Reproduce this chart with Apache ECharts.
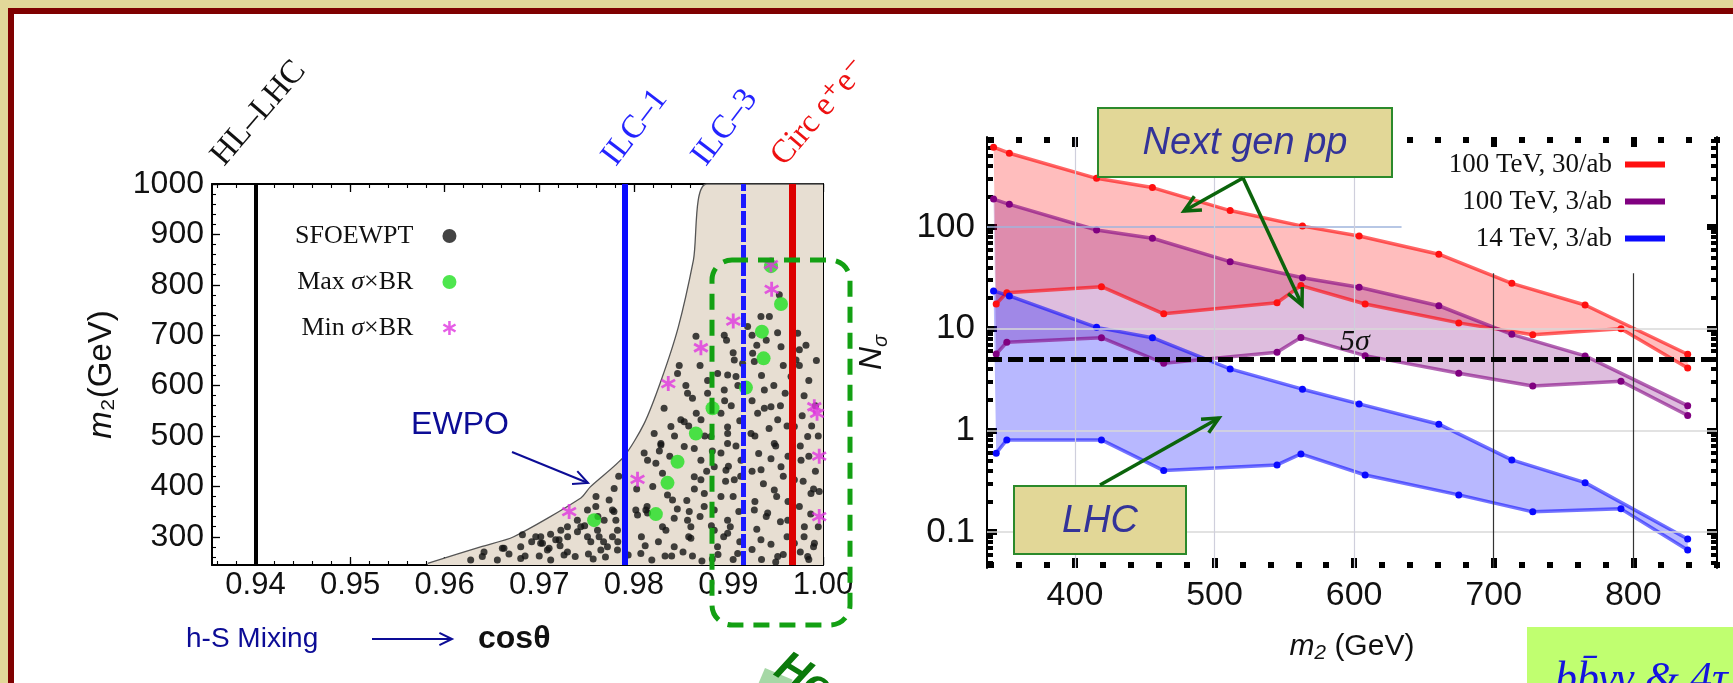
<!DOCTYPE html>
<html><head><meta charset="utf-8">
<script src="https://cdn.jsdelivr.net/npm/echarts@6/dist/echarts.min.js"></script>
<style>html,body{margin:0;padding:0;background:#e2d899}#c{width:1733px;height:683px}</style>
</head><body><div id="c"></div>
<script>
// ---------------- LEFT PANEL DATA ----------------
const cosTickLabels = [0.94, 0.95, 0.96, 0.97, 0.98, 0.99, 1.00];
const m2TickLabels = [300, 400, 500, 600, 700, 800, 900, 1000];
const probeNames = ['HL\u2013LHC', 'ILC\u20131', 'ILC\u20133', 'Circ e\u207Ae\u207B'];
const probeCos = [0.940, 0.9790, 0.9916, 0.9968];
const ewpoBoundary = [[0.9582,247],[0.9638,280],[0.9673,300],[0.9744,377],[0.9754,399],[0.9789,458],[0.9811,525],[0.9829,611],[0.9847,716],[0.9863,849],[0.9877,1000],[1.0,1000]];
const sfoewpt = [
[0.96416,270],[0.96610,277],[0.96804,280],[0.96822,304],[0.97016,300],[0.97034,287],[0.97104,277],[0.97210,294],[0.97228,313],[0.97298,270],
[0.97404,310],[0.97439,320],[0.97510,353],[0.97510,300],[0.97545,290],[0.97598,360],[0.97616,313],[0.97633,300],[0.97651,274],[0.97686,333],
[0.97721,280],[0.97739,373],[0.97774,300],[0.97792,396],[0.97810,333],[0.97827,313],[0.97827,274],[0.97774,353],
[0.98021,353],[0.98039,343],[0.98074,267],[0.98109,466],[0.98127,353],[0.98145,347],[0.98215,505],[0.98233,446],[0.98286,482],[0.98303,426],
[0.98303,320],[0.98339,313],[0.98356,383],[0.98409,373],[0.98427,337],[0.98427,280],[0.98497,532],[0.98533,528],[0.98568,333],[0.98586,350],
[0.98603,320],[0.98603,297],[0.98639,475],[0.98709,452],[0.98709,413],[0.98744,360],[0.98815,499],[0.98850,439],[0.98850,313],[0.98885,280],
[0.98921,380],[0.98974,432],[0.98991,518],[0.98991,485],[0.98991,333],
[0.96398,261],[0.96627,277],[0.96963,300],[0.97015,287],[0.97086,274],[0.97174,294],[0.97262,264],[0.97298,320],[0.97403,333],[0.96804,257],
[0.97121,254],[0.96557,254],[0.96275,254],[0.9700,262],[0.9738,261],[0.9757,256],[0.9794,264],[0.9819,254],[0.9833,262],[0.9852,270],[0.9862,262],[0.9883,256],
[0.99344,737],[0.99433,737],[0.99538,780],[0.98956,700],[0.99256,664],[0.99274,648],[0.99062,651],[0.99150,644],[0.98956,591],[0.99080,618],
[0.98992,621],[0.99380,591],[0.99556,677],[0.99750,671],[0.99715,651],[0.99662,618],[0.99450,558],[0.99521,532],[0.99309,545],[0.99239,505],
[0.98992,505],[0.98921,545],[0.99485,485],[0.99697,519],[0.99838,499],[0.99768,452],[0.99556,439],[0.99345,433],[0.99133,452],[0.98921,466],
[0.99062,413],[0.99485,393],[0.99697,413],[0.99873,386],[0.99274,353],[0.99415,347],[0.99627,333],[0.99803,320],[0.99909,287],[0.99697,287],
[0.99344,294],[0.98992,307],[0.99098,267],[0.99521,261],[0.99838,261],[0.98850,353],[0.98745,386],[0.98639,419],[0.98533,479],[0.98392,519],
[0.98286,485],[0.98145,452],[0.98710,532],[0.98568,585],[0.98462,624],[0.98780,585],[0.98886,624],[0.99203,717],[0.99732,704],[0.98657,698],
[0.9848,640],[0.9855,600],[0.9862,575],[0.9870,640],[0.9878,610],[0.9866,545],[0.9858,520],[0.9875,500],[0.9883,470],[0.9877,430],
[0.9864,395],[0.9856,372],[0.9870,340],[0.9882,322],[0.9895,300],[0.9889,265],[0.9872,252],[0.9858,300],[0.9846,355],[0.9838,460],
[0.9843,500],[0.9832,555],[0.9827,470],[0.9820,400],[0.9814,360],[0.9808,300],[0.9803,395],[0.9812,282],[0.9826,290],[0.9840,262],
[0.9898,690],[0.9905,665],[0.9910,600],[0.9903,560],[0.9912,530],[0.9908,480],[0.9900,440],[0.9913,420],[0.9905,380],[0.9911,350],
[0.9902,320],[0.9912,290],[0.9905,255],[0.9897,410],[0.9896,570],
[0.9925,700],[0.9930,680],[0.9940,690],[0.9952,705],[0.9958,640],[0.9935,620],[0.9948,600],[0.9960,585],[0.9925,570],[0.9938,555],
[0.9955,560],[0.9962,520],[0.9943,515],[0.9928,500],[0.9950,480],[0.9963,460],[0.9932,465],[0.9945,455],[0.9925,430],[0.9958,420],
[0.9937,405],[0.9951,380],[0.9963,370],[0.9928,370],[0.9940,340],[0.9955,330],[0.9930,315],[0.9962,300],[0.9945,285],[0.9925,275],
[0.9958,265],[0.9935,255],[0.9950,250],
[0.9975,640],[0.9985,610],[0.9980,580],[0.9992,560],[0.9978,540],[0.9988,520],[0.9995,500],[0.9976,480],[0.9985,460],[0.9992,430],
[0.9979,410],[0.9990,395],[0.9975,360],[0.9987,345],[0.9995,320],[0.9980,300],[0.9990,280],[0.9976,270],[0.9985,255],[0.9996,390],
[0.9993,650],[0.9982,680],
[0.9668,266],[0.9685,262],[0.9692,290],[0.9712,305],[0.9722,282],[0.9730,300],[0.9748,322],[0.9752,266],[0.9762,340],[0.9768,290],
[0.9779,350],[0.9784,420],[0.9783,290],[0.9760,380],[0.9770,260]
];
const maxSigmaBR = [[0.99556,762],[0.99354,707],[0.99372,654],[0.99185,596],[0.98832,555],[0.98656,505],[0.98462,449],[0.98356,407],[0.98233,345],[0.9758,333],[0.9945,837]];
const minSigmaBR = [[0.9945,840],[0.99457,791],[0.99051,728],[0.98709,675],[0.98364,604],[0.99908,558],[0.99937,545],[0.9996,460],[0.9996,340],[0.98039,414],[0.97316,350]];

// ---------------- RIGHT PANEL DATA ----------------
const m2TickLabelsRight = [400, 500, 600, 700, 800];
const nSigmaTickLabels = [0.1, 1, 10, 100];
const seriesNames = ['100 TeV, 30/ab', '100 TeV, 3/ab', '14 TeV, 3/ab'];
const m2Upper = [341.7, 353, 415.5, 455.5, 511.2, 563, 603.6, 660.7, 713, 765.5, 839];
const m2Lower = [343.6, 351.2, 419, 463.6, 544.8, 561.9, 607.9, 675, 728, 791.2, 839];
const red30Upper = [609, 531, 301, 244, 145, 102, 81.5, 54, 27.9, 17.1, 5.6];
const red30Lower = [17.5, 22.6, 25.9, 14.0, 18.0, 26.5, 17.5, 11.4, 8.7, 10.0, 4.1];
const purple3Upper = [188, 167, 93.4, 77.4, 45.6, 31.7, 25.5, 16.8, 8.8, 5.4, 1.75];
const purple3Lower = [5.64, 7.35, 8.15, 4.57, 5.87, 8.2, 5.43, 3.64, 2.73, 3.04, 1.40];
const blue14Upper = [23.5, 21.0, 10.3, 8.15, 4.02, 2.54, 1.82, 1.15, 0.512, 0.306, 0.0855];
const blue14Lower = [0.596, 0.805, 0.805, 0.402, 0.457, 0.586, 0.364, 0.232, 0.158, 0.169, 0.0667];
const fiveSigma = 5;

// ---------------- helpers ----------------
const zip = (xs, ys) => xs.map((x, i) => [x, ys[i]]);
const SERIF = 'Liberation Serif, DejaVu Serif, serif';
const SANS = 'Liberation Sans, Arial, DejaVu Sans, sans-serif';
const starPath = 'path://M41 0L59 0L59 100L41 100Z M2.2 32.8L11.2 17.2L97.8 67.2L88.8 82.8Z M88.8 17.2L97.8 32.8L11.2 82.8L2.2 67.2Z';

const cosMinor = []; for (let v = 936; v <= 1000; v += 2) cosMinor.push(v / 1000);
const m2Minor = []; for (let v = 260; v <= 1000; v += 20) m2Minor.push(v);
const m2MinorRight = []; for (let v = 340; v <= 860; v += 20) m2MinorRight.push(v);
const logMinor = [];
[0.01, 0.1, 1, 10, 100].forEach(d => { for (let k = 2; k <= 9; k++) logMinor.push(+(k * d).toPrecision(3)); });

const LX = [0.9354, 1.0], LY = [244, 1000];
const RX = [337, 860], RY = [0.0443, 767];

function xAx(grid, pos, ext, ticks, len, width, line, labels, extra) {
  return Object.assign({
    type: 'value', gridIndex: grid, position: pos, min: ext[0], max: ext[1],
    axisLine: { show: line, onZero: false, lineStyle: { color: '#000', width: 2 } },
    axisTick: { show: true, inside: true, length: len, lineStyle: { color: '#000', width: width }, customValues: ticks },
    axisLabel: labels ? labels : { show: false },
    splitLine: { show: false }
  }, extra || {});
}
function arrow(x1, y1, x2, y2, color, w, len) {
  const a = Math.atan2(y2 - y1, x2 - x1), s = 0.45;
  return [
    { type: 'line', z: 50, shape: { x1, y1, x2, y2 }, style: { stroke: color, lineWidth: w } },
    { type: 'polyline', z: 50, shape: { points: [[x2 - len * Math.cos(a - s), y2 - len * Math.sin(a - s)], [x2, y2], [x2 - len * Math.cos(a + s), y2 - len * Math.sin(a + s)]] },
      style: { stroke: color, lineWidth: w, fill: 'none' } }
  ];
}

const leftXLabel = { show: true, customValues: cosTickLabels, formatter: v => v.toFixed(2), fontFamily: SANS, fontSize: 31, color: '#111', margin: 5 };
const leftYLabel = { show: true, customValues: m2TickLabels, formatter: v => String(v), fontFamily: SANS, fontSize: 32, color: '#111', margin: 8 };
const rightXLabel = { show: true, customValues: m2TickLabelsRight, formatter: v => String(v), fontFamily: SANS, fontSize: 34, color: '#111', margin: 11 };
const rightYLabel = { show: true, customValues: nSigmaTickLabels, fontFamily: SANS, fontSize: 35, color: '#111', margin: 12,
  formatter: v => String(+v.toPrecision(3)) };

const xAxes = [
  xAx(0, 'bottom', LX, cosTickLabels, 8, 1.3, true, leftXLabel),
  xAx(0, 'bottom', LX, cosMinor, 4, 1.1, false, null),
  xAx(0, 'top', LX, cosTickLabels, 8, 1.3, true, null),
  xAx(0, 'top', LX, cosMinor, 4, 1.1, false, null),
  xAx(1, 'bottom', RX, m2TickLabelsRight, 10, 6, false, rightXLabel, {
    name: '{i|m\u2082} (GeV)', nameLocation: 'middle', nameGap: 64,
    nameTextStyle: { fontFamily: SANS, fontSize: 30, color: '#111', rich: { i: { fontStyle: 'italic', fontFamily: SANS, fontSize: 30 } } } }),
  xAx(1, 'bottom', RX, m2MinorRight, 6, 6, false, null),
  xAx(1, 'top', RX, m2TickLabelsRight, 10, 6, false, null),
  xAx(1, 'top', RX, m2MinorRight, 6, 6, false, null)
];
const yAxes = [
  xAx(0, 'left', LY, m2TickLabels, 8, 1.3, true, leftYLabel, {
    name: '{i|m}\u2082(GeV)', nameLocation: 'middle', nameGap: 94,
    nameTextStyle: { fontFamily: SANS, fontSize: 33, color: '#111', rich: { i: { fontStyle: 'italic', fontFamily: SANS, fontSize: 33 } } } }),
  xAx(0, 'left', LY, m2Minor, 4, 1.1, false, null),
  xAx(0, 'right', LY, m2TickLabels, 8, 1.3, true, null),
  xAx(0, 'right', LY, m2Minor, 4, 1.1, false, null),
  xAx(1, 'left', RY, nSigmaTickLabels, 10, 6, true, rightYLabel, {
    type: 'log', logBase: 10, name: '{n|N}{s|\u03C3}', nameLocation: 'middle', nameGap: 96,
    nameTextStyle: { rich: { n: { fontFamily: SANS, fontStyle: 'italic', fontSize: 32, color: '#111', lineHeight: 38 },
      s: { fontFamily: SANS, fontStyle: 'italic', fontSize: 20, color: '#111', verticalAlign: 'bottom', lineHeight: 24 } } } }),
  xAx(1, 'left', RY, logMinor, 6, 4, false, null, { type: 'log', logBase: 10 }),
  xAx(1, 'right', RY, nSigmaTickLabels, 10, 6, true, null, { type: 'log', logBase: 10 }),
  xAx(1, 'right', RY, logMinor, 6, 4, false, null, { type: 'log', logBase: 10 })
];

function band(upper, lower, color, name) {
  return {
    type: 'custom', name: name + ' band', xAxisIndex: 4, yAxisIndex: 4, z: 1, silent: true,
    data: [upper[0]],
    renderItem: (params, api) => {
      const pts = upper.map(p => api.coord(p)).concat(lower.slice().reverse().map(p => api.coord(p)));
      return { type: 'polygon', shape: { points: pts }, style: { fill: color } };
    }
  };
}
function bandLine(name, data, lineColor, dotColor) {
  return {
    type: 'line', name, xAxisIndex: 4, yAxisIndex: 4, data, z: 3, silent: true,
    symbol: 'circle', symbolSize: 7, showSymbol: true,
    lineStyle: { color: lineColor, width: 3.5 }, itemStyle: { color: dotColor }
  };
}

const red = zip(m2Upper, red30Upper), redL = zip(m2Lower, red30Lower);
const pur = zip(m2Upper, purple3Upper), purL = zip(m2Lower, purple3Lower);
const blu = zip(m2Upper, blue14Upper), bluL = zip(m2Lower, blue14Lower);

const probeStyles = [
  { color: '#000', width: 4, type: 'solid' },
  { color: '#0a0aff', width: 6, type: 'solid' },
  { color: '#1a1aff', width: 5, type: [14, 3] },
  { color: '#dd0000', width: 7, type: 'solid' }
];
const mlBase = { silent: true, symbol: ['none', 'none'], label: { show: false }, animation: false, precision: 6 };

const series = [
  { type: 'line', name: 'EWPO', xAxisIndex: 0, yAxisIndex: 0, data: ewpoBoundary, smooth: 0.25, showSymbol: false, silent: true, z: 1,
    lineStyle: { color: '#555', width: 1.3 }, areaStyle: { color: '#e7ded2', opacity: 1, origin: 'start' } },
  { type: 'scatter', name: 'SFOEWPT', xAxisIndex: 0, yAxisIndex: 0, data: sfoewpt, symbolSize: 7, z: 3, silent: true,
    itemStyle: { color: '#141414' } },
  { type: 'scatter', name: 'Max \u03C3\u00D7BR', xAxisIndex: 0, yAxisIndex: 0, data: maxSigmaBR, symbolSize: 14, z: 4, silent: true,
    itemStyle: { color: '#22e022' } },
  { type: 'scatter', name: 'Min \u03C3\u00D7BR', xAxisIndex: 0, yAxisIndex: 0, data: minSigmaBR, symbol: starPath, symbolSize: 15, z: 4, silent: true,
    itemStyle: { color: '#e034e0' } },
  { type: 'line', name: 'probes', xAxisIndex: 0, yAxisIndex: 0, data: [], z: 5, silent: true,
    markLine: Object.assign({}, mlBase, { data: probeCos.map((c, i) => ({ xAxis: c, lineStyle: probeStyles[i] })) }) },
  { type: 'line', name: 'grid', xAxisIndex: 4, yAxisIndex: 4, data: [], z: 0, silent: true,
    markLine: Object.assign({}, mlBase, {
      data: [
        { yAxis: 0.1, lineStyle: { color: '#d8d8d8', width: 1.5, type: 'solid' } },
        { yAxis: 1, lineStyle: { color: '#d8d8d8', width: 1.5, type: 'solid' } },
        { yAxis: 10, lineStyle: { color: '#d8d8d8', width: 1.5, type: 'solid' } },
        [{ coord: [RX[0], 100], lineStyle: { color: '#9fb4dc', width: 1.5, type: 'solid' } }, { coord: [634, 100] }],
        { xAxis: 400, lineStyle: { color: '#cfcfdc', width: 1.2, type: 'solid' } },
        { xAxis: 500, lineStyle: { color: '#cfcfdc', width: 1.2, type: 'solid' } },
        { xAxis: 600, lineStyle: { color: '#cfcfdc', width: 1.2, type: 'solid' } },
        [{ coord: [700, 35], lineStyle: { color: '#333', width: 1.2, type: 'solid' } }, { coord: [700, RY[0]] }],
        [{ coord: [800, 35], lineStyle: { color: '#333', width: 1.2, type: 'solid' } }, { coord: [800, RY[0]] }]
      ] }) },
  band(red, redL, 'rgba(255,0,0,0.26)', seriesNames[0]),
  band(pur, purL, 'rgba(128,0,128,0.26)', seriesNames[1]),
  band(blu, bluL, 'rgba(0,0,255,0.28)', seriesNames[2]),
  bandLine(seriesNames[0], red, 'rgba(255,0,0,0.6)', '#ff1010'),
  bandLine(seriesNames[0], redL, 'rgba(255,0,0,0.6)', '#ff1010'),
  bandLine(seriesNames[1], pur, 'rgba(128,0,128,0.6)', '#800080'),
  bandLine(seriesNames[1], purL, 'rgba(128,0,128,0.6)', '#800080'),
  bandLine(seriesNames[2], blu, 'rgba(0,0,255,0.55)', '#0a0aff'),
  bandLine(seriesNames[2], bluL, 'rgba(0,0,255,0.55)', '#0a0aff'),
  { type: 'line', name: '5sigma', xAxisIndex: 4, yAxisIndex: 4, data: [], z: 6, silent: true,
    markLine: Object.assign({}, mlBase, { data: [{ yAxis: fiveSigma, lineStyle: { color: '#000', width: 5, type: [15, 6] } }] }) }
];

// ---------------- decorations ----------------
const graphics = [
  { type: 'rect', z: -10, silent: true, shape: { x: 11, y: 11, width: 1800, height: 800 }, style: { fill: '#fff', stroke: '#7f0000', lineWidth: 6 } },
  { type: 'text', z: 20, x: 230, y: 172, rotation: 0.86, style: { text: probeNames[0], font: '33px ' + SERIF, fill: '#111', textAlign: 'left', textVerticalAlign: 'bottom' } },
  { type: 'text', z: 20, x: 622, y: 172, rotation: 0.92, style: { text: probeNames[1], font: '33px ' + SERIF, fill: '#2424ff', textAlign: 'left', textVerticalAlign: 'bottom' } },
  { type: 'text', z: 20, x: 712, y: 172, rotation: 0.92, style: { text: probeNames[2], font: '33px ' + SERIF, fill: '#2424ff', textAlign: 'left', textVerticalAlign: 'bottom' } },
  { type: 'text', z: 20, x: 790, y: 172, rotation: 0.86, style: { text: probeNames[3], font: '33px ' + SERIF, fill: '#ee1111', textAlign: 'left', textVerticalAlign: 'bottom' } },
  { type: 'text', z: 20, x: 460, y: 425, style: { text: 'EWPO', font: '32px ' + SANS, fill: '#0c0c96', textAlign: 'center', textVerticalAlign: 'middle' } },
  ...arrow(512, 452, 588, 483, '#0c0c96', 2, 16),
  { type: 'text', z: 20, x: 186, y: 639, style: { text: 'h-S Mixing', font: '28px ' + SANS, fill: '#0c0c96', textAlign: 'left', textVerticalAlign: 'middle' } },
  ...arrow(372, 639, 452, 639, '#0c0c96', 2, 14),
  { type: 'text', z: 20, x: 478, y: 639, style: { text: 'cos\u03B8', font: 'bold 32px ' + SANS, fill: '#111', textAlign: 'left', textVerticalAlign: 'middle' } },
  { type: 'rect', z: 40, shape: { x: 712, y: 260, width: 138, height: 365, r: 20 }, style: { fill: 'none', stroke: '#13a013', lineWidth: 5, lineDash: [16, 10] } },
  { type: 'text', z: 20, x: 790, y: 645, rotation: -0.55, style: { text: 'How', font: 'italic bold 44px ' + SANS, fill: '#0b7a0b', textAlign: 'left', textVerticalAlign: 'top' } },
  { type: 'rect', z: 19, x: 765, y: 668, rotation: -0.4, shape: { x: 0, y: 0, width: 30, height: 30 }, style: { fill: '#a6d8a6' } },
  { type: 'rect', z: 45, shape: { x: 1098, y: 108, width: 294, height: 69 }, style: { fill: '#e2d797', stroke: '#2b8a2b', lineWidth: 2 } },
  { type: 'text', z: 46, x: 1245, y: 143, style: { text: 'Next gen pp', font: 'italic 38px ' + SANS, fill: '#333399', textAlign: 'center', textVerticalAlign: 'middle' } },
  { type: 'rect', z: 45, shape: { x: 1014, y: 486, width: 172, height: 68 }, style: { fill: '#e2d797', stroke: '#2b8a2b', lineWidth: 2 } },
  { type: 'text', z: 46, x: 1100, y: 521, style: { text: 'LHC', font: 'italic 38px ' + SANS, fill: '#333399', textAlign: 'center', textVerticalAlign: 'middle' } },
  ...arrow(1243, 178, 1184, 211, '#0b640b', 3.5, 18),
  ...arrow(1243, 178, 1302, 305, '#0b640b', 3.5, 18),
  ...arrow(1100, 485, 1219, 418, '#0b640b', 3.5, 18),
  { type: 'text', z: 20, x: 1355, y: 342, style: { text: '5\u03C3', font: 'italic 30px ' + SERIF, fill: '#111', textAlign: 'center', textVerticalAlign: 'middle' } },
  { type: 'rect', z: 30, shape: { x: 1527, y: 627, width: 300, height: 100 }, style: { fill: '#c0ff70' } },
  { type: 'text', z: 31, x: 1555, y: 658, style: { text: 'b\u0062\u0304\u03B3\u03B3 & 4\u03C4', font: 'italic 44px ' + SERIF, fill: '#1414e0', textAlign: 'left', textVerticalAlign: 'top' } }
];

const chart = echarts.init(document.getElementById('c'), null, { renderer: 'canvas' });
chart.setOption({
  animation: false,
  backgroundColor: '#e2d899',
  grid: [
    { left: 212, top: 184, width: 611, height: 381, containLabel: false, outerBoundsMode: 'none' },
    { left: 987, top: 137, width: 730, height: 431, containLabel: false, outerBoundsMode: 'none' }
  ],
  legend: [
    { data: [{ name: 'SFOEWPT', icon: 'circle' }, { name: 'Max \u03C3\u00D7BR', icon: 'circle' }, { name: 'Min \u03C3\u00D7BR', icon: starPath }],
      orient: 'vertical', left: 290, top: 218, align: 'right', itemGap: 20, itemWidth: 14, itemHeight: 14, selectedMode: false,
      formatter: n => n.replace('\u03C3', '{i|\u03C3}') + '{g|}',
      textStyle: { fontFamily: SERIF, fontSize: 26, color: '#111', rich: { i: { fontFamily: SERIF, fontStyle: 'italic', fontSize: 26, color: '#111' }, g: { width: 24 } } } },
    { data: seriesNames.map(n => ({ name: n, icon: 'rect' })), orient: 'vertical', right: 63, top: 146, align: 'right',
      itemGap: 10, itemWidth: 40, itemHeight: 6, selectedMode: false,
      formatter: n => n + '{g|}',
      textStyle: { fontFamily: SERIF, fontSize: 27, color: '#111', rich: { g: { width: 8 } } } }
  ],
  xAxis: xAxes,
  yAxis: yAxes,
  series: series,
  graphic: graphics
});
</script></body></html>
